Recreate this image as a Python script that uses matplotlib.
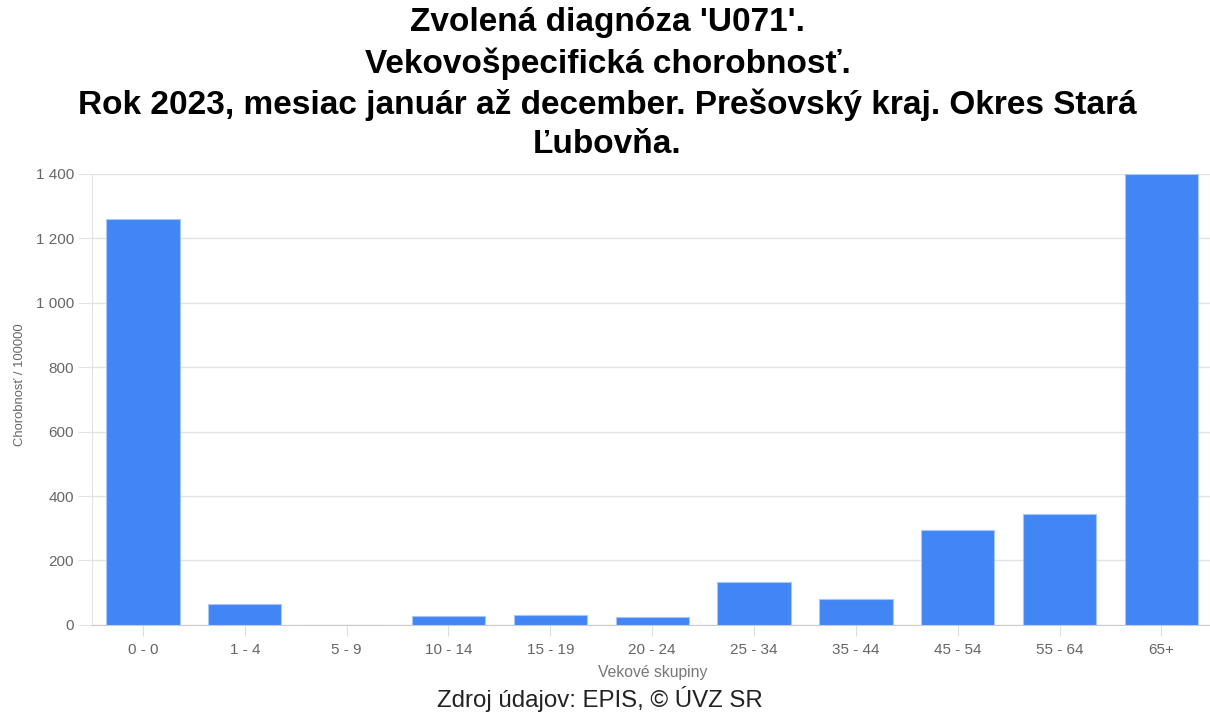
import matplotlib.pyplot as plt
import numpy as np

plt.rcParams['font.family'] = ['Liberation Sans', 'DejaVu Sans']

# age groups and rates per 100000
categories = ['0 - 0', '1 - 4', '5 - 9', '10 - 14', '15 - 19', '20 - 24',
              '25 - 34', '35 - 44', '45 - 54', '55 - 64', '65+']
values = [1261, 65, 0, 28, 31, 26, 134, 80, 293, 344, 1400]
yticks = [0, 200, 400, 600, 800, 1000, 1200, 1400]
ytick_labels = ['0', '200', '400', '600', '800', '1 000', '1 200', '1 400']

title = ("Zvolená diagnóza 'U071'.\n"
         "Vekovošpecifická chorobnosť.\n"
         "Rok 2023, mesiac január až december. Prešovský kraj. Okres Stará\n"
         "Ľubovňa.")

fig = plt.figure(figsize=(12.1, 7.15), dpi=100)
ax = fig.add_axes([0.076, 0.126, 0.926, 0.631])

x = np.arange(len(categories))
ax.bar(x, values, width=0.72, color='#4285F4', edgecolor='#a9c6f8',
       linewidth=0.8, zorder=3)

ax.set_xlim(-0.5, len(categories) - 0.5)
ax.set_ylim(0, 1400)
ax.set_yticks(yticks)
ax.set_yticklabels(ytick_labels)
ax.set_xticks(x)
ax.set_xticklabels(categories)

ax.grid(axis='y', color='#e3e3e3', linewidth=1, zorder=0)
for s in ['top', 'right']:
    ax.spines[s].set_visible(False)
ax.spines['left'].set_color('#e3e3e3')
ax.spines['bottom'].set_color('#cccccc')
ax.tick_params(axis='y', colors='#e3e3e3', labelcolor='#666666',
               labelsize=11, length=10, pad=3)
ax.tick_params(axis='x', colors='#dddddd', labelcolor='#666666',
               labelsize=11, length=8, pad=5)

ax.set_xlabel('Vekové skupiny', fontsize=11.3, color='#777777', labelpad=6)
ax.set_ylabel('Chorobnosť / 100000', fontsize=9.4, color='#666666')
ax.yaxis.set_label_coords(-0.059, 0.532)

fig.text(0.502, 0.99, title, ha='center', va='top', fontsize=24,
         fontweight='bold', linespacing=1.35)
fig.text(0.496, 0.004, 'Zdroj údajov: EPIS, © ÚVZ SR', ha='center',
         va='bottom', fontsize=17.3, color='#222222')

fig.savefig('out.png', dpi=100)
